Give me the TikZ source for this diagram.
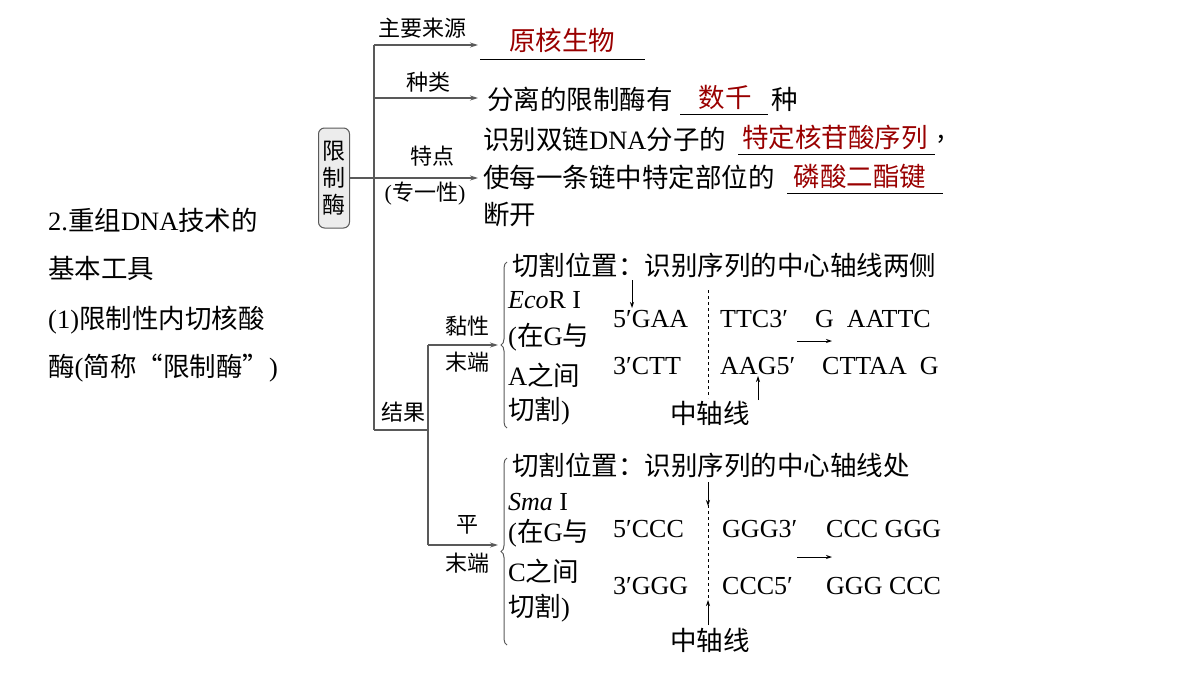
\documentclass[tikz,border=0pt]{standalone}
\usepackage{fontspec}
\setmainfont{Noto Sans CJK SC}
\newfontfamily\lat{Liberation Serif}
\usetikzlibrary{arrows.meta,decorations.pathreplacing}
\begin{document}
\begin{tikzpicture}[x=1pt,y=-1pt,
 ln/.style={draw=gray!70!black,line width=1.1pt},
 ar/.style={ln,-{Stealth[length=8pt,width=5pt]}},
 lab/.style={font=\fontsize{22}{22}\selectfont,inner sep=0},
 txt/.style={font=\fontsize{26.5}{26.5}\selectfont,inner sep=0,anchor=west},
 ttl/.style={font=\fontsize{26.5}{26.5}\selectfont,inner sep=0,anchor=west},
 red/.style={txt,text=red!60!black,anchor=center},
 ul/.style={draw=black,line width=1pt},
 seq/.style={font=\lat\fontsize{26}{26}\selectfont,inner sep=0,anchor=west},
 sa/.style={draw=black,line width=0.8pt,-{Stealth[length=6pt,width=4pt]}},
 br/.style={draw=gray!70!black,line width=1pt,decorate,decoration={brace,mirror,amplitude=6pt}}]
\useasboundingbox (0,0) rectangle (1200,675);
% left title
\node[ttl] (t1) at (48,220) {{\lat 2.}重组{\lat DNA}技术的};
\node[ttl] (t2) at (48,268) {基本工具};
\node[ttl] (t3) at (48,320) {{\lat (1)}限制性内切核酸};
\node[ttl] (t4) at (48,368) {酶{\lat (}简称“限制酶”{\lat )}};
% box
\node[draw=gray!70!black,fill=gray!15,rounded corners=6pt,line width=1pt,align=center,inner sep=4pt,font=\fontsize{23}{27}\selectfont,minimum height=100pt] (box) at (334,178) {限\\制\\酶};
\coordinate (vt) at (374,45);
\coordinate (vb) at (374,430);
\draw[ln] (vt) -- (vb);
\coordinate (a1) at (478,45); \coordinate (a2) at (478,98); \coordinate (a3) at (478,178);
\draw[ar] (vt) -- (a1);
\draw[ar] (374,98) -- (a2);
\draw[ar] (box.east) -- (a3);
\node[lab] (l1) at (422,28) {主要来源};
\node[lab] (l2) at (428,82) {种类};
\node[lab] (l3) at (432,156) {特点};
\node[lab] (l4) at (425,194) {{\lat (}专一性{\lat )}};
% right texts
\node[red] (r1) at (562,40) {原核生物};
\draw[ul] (480,59) -- (645,59);
\node[txt] (s1) at (487,99) {分离的限制酶有};
\node[red] (r2) at (725,97) {数千};
\draw[ul] (680,114) -- (768,114);
\node[txt] (s1b) at (771,99) {种};
\node[txt] (s2) at (483,139) {识别双链{\lat DNA}分子的};
\node[red] (r3) at (835,137) {特定核苷酸序列};
\draw[ul] (738,154) -- (935,154);
\node[txt] (cm) at (937,139) {,};
\node[txt] (s3) at (483,177) {使每一条链中特定部位的};
\node[red] (r4) at (860,176) {磷酸二酯键};
\draw[ul] (787,193) -- (943,193);
\node[txt] (s4) at (483,214) {断开};
% results
\coordinate (k1) at (428,430);
\coordinate (k2) at (428,345);
\coordinate (k3) at (428,545);
\draw[ln] (vb) -- (k1);
\draw[ln] (k2) -- (k3);
\draw[ar] (k2) -- (498,345);
\draw[ar] (k3) -- (498,545);
\node[lab] (jg) at (403,412) {结果};
\node[lab] (n1) at (467,326) {黏性};
\node[lab] (n2) at (467,362) {末端};
\node[lab] (n3) at (467,525) {平};
\node[lab] (n4) at (467,563) {末端};
\draw[br] (507,262) -- (507,428);
\draw[br] (507,458) -- (507,645);
% sticky
\node[txt] (c1) at (512,265) {切割位置：识别序列的中心轴线两侧};
\node[seq] (e1) at (508,300) {\textit{Eco}R I};
\node[txt] (e2) at (508,337) {{\lat (}在{\lat G}与};
\node[txt] (e3) at (508,375) {{\lat A}之间};
\node[txt] (e4) at (508,411) {切割{\lat )}};
\node[seq] (q1) at (613,319) {5′GAA};
\node[seq] (q2) at (720,319) {TTC3′};
\node[seq] (q3) at (815,319) {G\ \ AATTC};
\node[seq] (q4) at (613,366) {3′CTT};
\node[seq] (q5) at (720,366) {AAG5′};
\node[seq] (q6) at (822,366) {CTTAA\ \ G};
\draw[black,dashed,line width=0.9pt] (708,290) -- (708,398);
\draw[sa] (632,280) -- (632,308);
\draw[sa] (758,400) -- (758,376);
\draw[sa] (797,341) -- (832,341);
\node[txt,anchor=center] (z1) at (710,413) {中轴线};
% blunt
\node[txt] (c2) at (512,465) {切割位置：识别序列的中心轴线处};
\node[seq] (m1) at (508,502) {\textit{Sma} I};
\node[txt] (m2) at (508,533) {{\lat (}在{\lat G}与};
\node[txt] (m3) at (508,571) {{\lat C}之间};
\node[txt] (m4) at (508,608) {切割{\lat )}};
\node[seq] (p1) at (613,529) {5′CCC};
\node[seq] (p2) at (722,529) {GGG3′};
\node[seq] (p3) at (826,529) {CCC GGG};
\node[seq] (p4) at (613,586) {3′GGG};
\node[seq] (p5) at (722,586) {CCC5′};
\node[seq] (p6) at (826,586) {GGG CCC};
\draw[black,dashed,line width=0.9pt] (708,505) -- (708,600);
\draw[sa] (708,482) -- (708,506);
\draw[sa] (708,625) -- (708,600);
\draw[sa] (797,557) -- (832,557);
\node[txt,anchor=center] (z2) at (710,640) {中轴线};
\end{tikzpicture}
\end{document}
